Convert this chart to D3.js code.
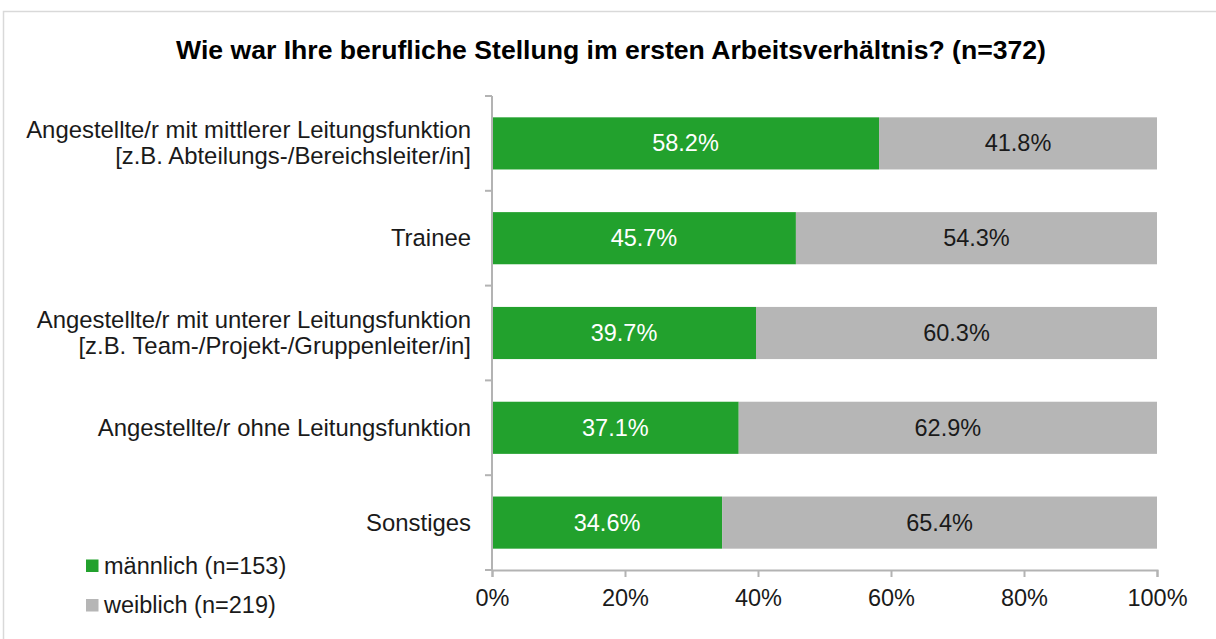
<!DOCTYPE html>
<html>
<head>
<meta charset="utf-8">
<script src="https://cdn.jsdelivr.net/npm/d3@7"></script>
<style>
  body { margin: 0; background: #fff; }
  svg { font-family: "Liberation Sans", Arial, sans-serif; }
</style>
</head>
<body>
<script>
// ---------------- DATA ----------------
var categories = [
  ["Angestellte/r mit mittlerer Leitungsfunktion", "[z.B. Abteilungs-/Bereichsleiter/in]"],
  ["Trainee"],
  ["Angestellte/r mit unterer Leitungsfunktion", "[z.B. Team-/Projekt-/Gruppenleiter/in]"],
  ["Angestellte/r ohne Leitungsfunktion"],
  ["Sonstiges"]
]
var maennlich = [58.2, 45.7, 39.7, 37.1, 34.6]
var weiblich = [41.8, 54.3, 60.3, 62.9, 65.4]
var seriesNames = ["männlich (n=153)", "weiblich (n=219)"]
var seriesColors = ["#22a12d", "#b6b6b6"]
var xTicks = [0, 20, 40, 60, 80, 100]

// ---------------- SVG ----------------
var width = 1216, height = 639
var fs = 23.5
var svg = d3.select('body').append('svg')
  .attr('width', width).attr('height', height)

// frame
svg.append('rect')
  .attr('x', 3.5).attr('y', 11.5)
  .attr('width', 1216).attr('height', 640)
  .attr('fill', 'none').attr('stroke', '#d9d9d9').attr('stroke-width', 1.5)

svg.append('text')
  .attr('x', 611).attr('y', 59)
  .attr('text-anchor', 'middle')
  .style('font-size', '26.6px').style('font-weight', 'bold')
  .text('Wie war Ihre berufliche Stellung im ersten Arbeitsverhältnis? (n=372)')

// ---------------- SCALES ----------------
var x = d3.scaleLinear().domain([0, 100]).range([492, 1157])
var y = d3.scaleBand().domain(d3.range(categories.length)).range([96, 570]).paddingInner(0.45).paddingOuter(0.225)

var rows = categories.map(function(c, i) {
  return {label: c, m: maennlich[i], w: weiblich[i], i: i}
})

var g = svg.append('g')

// bars
g.selectAll('rect.m').data(rows).enter().append('rect')
  .attr('x', x(0))
  .attr('y', function(d) { return y(d.i) })
  .attr('width', function(d) { return x(d.m) - x(0) })
  .attr('height', y.bandwidth())
  .attr('fill', seriesColors[0])

g.selectAll('rect.w').data(rows).enter().append('rect')
  .attr('x', function(d) { return x(d.m) })
  .attr('y', function(d) { return y(d.i) })
  .attr('width', function(d) { return x(d.m + d.w) - x(d.m) })
  .attr('height', y.bandwidth())
  .attr('fill', seriesColors[1])

// value labels
g.selectAll('text.m').data(rows).enter().append('text')
  .attr('x', function(d) { return (x(0) + x(d.m)) / 2 })
  .attr('y', function(d) { return y(d.i) + y.bandwidth() / 2 + 8 })
  .attr('text-anchor', 'middle').attr('fill', '#fff')
  .style('font-size', fs + 'px')
  .text(function(d) { return d.m.toFixed(1) + '%' })

g.selectAll('text.w').data(rows).enter().append('text')
  .attr('x', function(d) { return (x(d.m) + x(d.m + d.w)) / 2 })
  .attr('y', function(d) { return y(d.i) + y.bandwidth() / 2 + 8 })
  .attr('text-anchor', 'middle').attr('fill', '#1a1a1a')
  .style('font-size', fs + 'px')
  .text(function(d) { return d.w.toFixed(1) + '%' })

// ---------------- AXES ----------------
var xAxis = svg.append('g')
  .attr('transform', 'translate(0,570)')
  .call(d3.axisBottom(x).tickValues(xTicks).tickSize(7).tickPadding(12).tickFormat(function(d) { return d + '%' }))
xAxis.select('.domain').attr('stroke', '#b3b3b3').attr('stroke-width', 2)
xAxis.selectAll('.tick line').attr('stroke', '#b3b3b3').attr('stroke-width', 2)
xAxis.selectAll('.tick text').attr('fill', '#1a1a1a').style('font-size', fs + 'px')
  .style('font-family', '"Liberation Sans", Arial, sans-serif')

// y axis line with ticks at category boundaries
var step = y.step()
var yEdges = d3.range(categories.length + 1).map(function(i) { return 96 + i * step })
svg.append('line')
  .attr('x1', 492).attr('x2', 492).attr('y1', 96).attr('y2', 570)
  .attr('stroke', '#b3b3b3').attr('stroke-width', 2)
svg.selectAll('line.yt').data(yEdges).enter().append('line')
  .attr('x1', 485).attr('x2', 492)
  .attr('y1', function(d) { return d }).attr('y2', function(d) { return d })
  .attr('stroke', '#b3b3b3').attr('stroke-width', 2)

// category labels
var labels = svg.selectAll('text.cat').data(rows).enter().append('text')
  .attr('text-anchor', 'end').attr('fill', '#1a1a1a')
  .style('font-size', '23.9px')
labels.each(function(d) {
  var n = d.label.length
  var cy = y(d.i) + y.bandwidth() / 2
  var t = d3.select(this)
  d.label.forEach(function(line, k) {
    t.append('tspan')
      .attr('x', 471)
      .attr('y', cy + 8 + (k - (n - 1) / 2) * 26)
      .text(line)
  })
})

// ---------------- LEGEND ----------------
var legend = svg.selectAll('g.leg').data(seriesNames).enter().append('g')
  .attr('transform', function(d, i) { return 'translate(86,' + (559.5 + i * 39.5) + ')' })
legend.append('rect').attr('width', 12.5).attr('height', 12.5)
  .attr('fill', function(d, i) { return seriesColors[i] })
legend.append('text').attr('x', 18).attr('y', 14)
  .attr('fill', '#1a1a1a').style('font-size', fs + 'px')
  .text(function(d) { return d })
</script>
</body>
</html>
